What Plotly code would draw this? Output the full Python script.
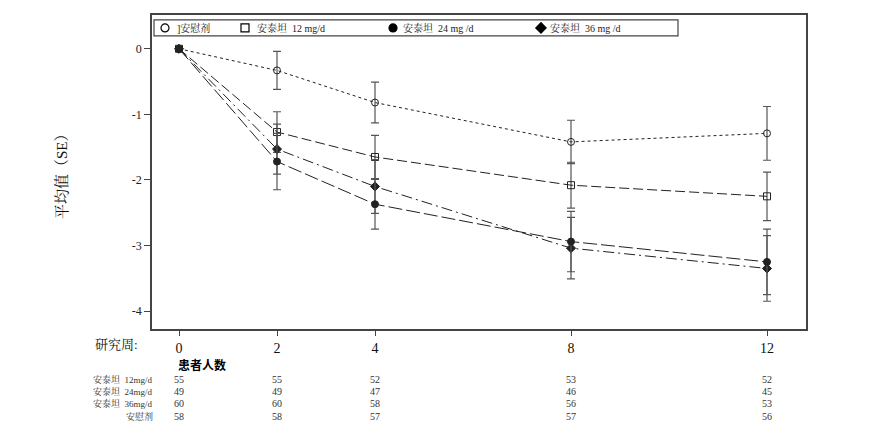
import plotly.graph_objects as go

weeks = [0, 2, 4, 8, 12]

placebo_mean = [0, -0.33, -0.82, -1.42, -1.29]
placebo_se = [0, 0.29, 0.31, 0.33, 0.41]
m12_mean = [0, -1.27, -1.65, -2.08, -2.25]
m12_se = [0, 0.31, 0.33, 0.35, 0.37]
m24_mean = [0, -1.72, -2.37, -2.94, -3.25]
m24_se = [0, 0.43, 0.38, 0.46, 0.50]
m36_mean = [0, -1.53, -2.10, -3.04, -3.35]
m36_se = [0, 0.38, 0.41, 0.47, 0.50]

legend_names = ["]安慰剂", "安泰坦  12 mg/d", "安泰坦  24 mg /d", "安泰坦  36 mg /d"]

row_labels = ["安泰坦  12mg/d", "安泰坦  24mg/d", "安泰坦  36mg/d", "安慰剂"]
n_12 = [55, 55, 52, 53, 52]
n_24 = [49, 49, 47, 46, 45]
n_36 = [60, 60, 58, 56, 53]
n_pl = [58, 58, 57, 57, 56]
counts = [n_12, n_24, n_36, n_pl]

y_ticks = [0, -1, -2, -3, -4]
y_ticktext = ["0", "-1", "-2", "-3", "-4"]

FONT = "Liberation Serif, Noto Serif CJK SC, Noto Sans CJK SC, serif"
LINE = "#222222"
ERR = "#555555"

series = [
    (placebo_mean, placebo_se, "circle-open", "3px,3px"),
    (m12_mean, m12_se, "square-open", "10px,4px"),
    (m36_mean, m36_se, "diamond", "11px,4px,2px,4px"),
    (m24_mean, m24_se, "circle", "14px,4px"),
]

# page offset (browser body margin)
OFF = 8
W, H = 872 - OFF, 432 - OFF
# plot area in page px
L, R, T, B = 152, 806, 13, 329
pw, ph = R - L, B - T

def px_x(px):
    return (px - L) / pw

def px_y(py):
    return (B - py) / ph

fig = go.Figure()
for mean, se, sym, dash in series:
    fig.add_trace(go.Scatter(
        x=weeks, y=mean, mode="lines+markers",
        line=dict(color=LINE, width=1, dash=dash),
        marker=dict(symbol=sym, size=7, color=LINE, line=dict(color=LINE, width=1)),
        error_y=dict(type="data", array=se, visible=True, color=ERR, thickness=1.2, width=4),
        showlegend=False,
    ))

leg_syms = ["circle-open", "square-open", "circle", "diamond"]
leg_sym_px = [164, 244, 392, 540]
leg_text_px = [175, 255, 401, 548]
SYM_OFF = 11  # symbol center offset from legend x (px)
legends = {}
annotations = []
for i, (name, sym) in enumerate(zip(legend_names, leg_syms)):
    lid = "legend" if i == 0 else f"legend{i+1}"
    fig.add_trace(go.Scatter(
        x=[None], y=[None], mode="markers", name="\u00a0",
        marker=dict(symbol=sym, size=8, color="black", line=dict(color="black", width=1.2)),
        legend=lid, showlegend=True,
    ))
    legends[lid] = dict(
        x=px_x(leg_sym_px[i] - SYM_OFF), xanchor="left",
        y=px_y(26), yanchor="middle",
        bgcolor="rgba(0,0,0,0)", borderwidth=0,
        font=dict(family=FONT, size=10, color="#222"),
        indentation=-8, itemwidth=30,
    )
    annotations.append(dict(text=name, xref="paper", yref="paper",
                            x=px_x(leg_text_px[i]), y=px_y(26),
                            showarrow=False, font=dict(family=FONT, size=10, color="#222"),
                            xanchor="left", yanchor="middle"))

shapes = [dict(type="rect", xref="paper", yref="paper",
               x0=px_x(154), x1=px_x(678),
               y0=px_y(34), y1=px_y(18),
               line=dict(color="#444", width=1.2), fillcolor="rgba(0,0,0,0)")]

annotations.append(dict(text="平均值（SE）", xref="paper", yref="paper",
                        x=px_x(62), y=px_y(172), textangle=-90,
                        showarrow=False, font=dict(family=FONT, size=15, color="#111"),
                        xanchor="center", yanchor="middle"))
annotations.append(dict(text="研究周:", xref="paper", yref="paper",
                        x=px_x(116), y=px_y(345),
                        showarrow=False, font=dict(family=FONT, size=13, color="#111"),
                        xanchor="center", yanchor="middle"))
annotations.append(dict(text="<b>患者人数</b>", xref="paper", yref="paper",
                        x=px_x(176), y=px_y(365),
                        showarrow=False, font=dict(family="Noto Sans CJK SC", size=12, color="#000"),
                        xanchor="left", yanchor="middle"))
row_y = [380, 392, 404, 417]
for lab, cnt, ry in zip(row_labels, counts, row_y):
    annotations.append(dict(text=lab, xref="paper", yref="paper",
                            x=px_x(155), y=px_y(ry),
                            showarrow=False, font=dict(family=FONT, size=9, color="#333"),
                            xanchor="right", yanchor="middle"))
    for wk, c in zip(weeks, cnt):
        annotations.append(dict(text=str(c), xref="x", yref="paper",
                                x=wk, y=px_y(ry),
                                showarrow=False, font=dict(family=FONT, size=10, color="#333"),
                                xanchor="center", yanchor="middle"))

fig.update_layout(
    width=W, height=H,
    margin=dict(l=L - OFF, r=W - (R - OFF), t=T - OFF, b=H - (B - OFF)),
    paper_bgcolor="white", plot_bgcolor="white",
    font=dict(family=FONT, size=13, color="#222"),
    shapes=shapes, annotations=annotations,
    **legends,
)
fig.update_xaxes(
    range=[-0.551, 12.796], tickvals=weeks, ticktext=[str(w) for w in weeks],
    showgrid=False, zeroline=False, showline=True, mirror=True,
    linecolor="#444", linewidth=1.5, ticks="outside", ticklen=5, tickcolor="#444",
    tickfont=dict(family=FONT, size=14, color="#111"),
)
fig.update_yaxes(
    range=[-4.273, 0.515], tickvals=y_ticks, ticktext=y_ticktext,
    showgrid=False, zeroline=False, showline=True, mirror=True,
    linecolor="#444", linewidth=1.5, ticks="outside", ticklen=6, tickcolor="#444",
    tickfont=dict(family=FONT, size=12, color="#222"),
)

fig.write_html("out.html")
